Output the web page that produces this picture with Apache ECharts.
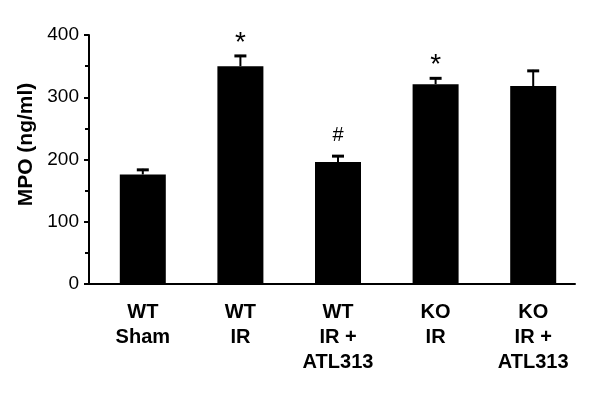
<!DOCTYPE html>
<html>
<head>
<meta charset="utf-8">
<script src="https://cdn.jsdelivr.net/npm/echarts@6/dist/echarts.min.js"></script>
<style>
    html, body { margin: 0; padding: 0; background: #fff; }
    #chart { width: 600px; height: 400px; }
</style>
</head>
<body>
<div id="chart"></div>
<script>
//分组名称
const groups = ['WT\nSham', 'WT\nIR', 'WT\nIR +\nATL313', 'KO\nIR', 'KO\nIR +\nATL313'];
//MPO均值
const mpo = [176, 350, 196, 321, 318];
//误差(向上)
const mpoErr = [9, 18, 11, 11, 26];
//显著性标记
const marks = ['', '*', '#', '*', ''];
//Y轴刻度
const yMin = 0;
const yMax = 400;
const yStep = 100;

const font = 'Liberation Sans, Arial, Helvetica, sans-serif';
const chart = echarts.init(document.getElementById('chart'));

//误差线和标记
function renderErr(params, api) {
    const i = api.value(0);
    const top = api.coord([i, api.value(1) + api.value(2)]);
    const base = api.coord([i, api.value(1)]);
    const x = top[0];
    const items = [
        { type: 'line', shape: { x1: x, y1: base[1], x2: x, y2: top[1] }, style: { stroke: '#000', lineWidth: 2 } },
        { type: 'line', shape: { x1: x - 6, y1: top[1] + 1, x2: x + 6, y2: top[1] + 1 }, style: { stroke: '#000', lineWidth: 3 } }
    ];
    const m = marks[i];
    if (m) {
        items.push({
            type: 'text',
            style: {
                text: m,
                x: x,
                y: m == '*' ? top[1] - 12 : top[1] - 20,
                align: 'center',
                verticalAlign: 'middle',
                fill: '#000',
                font: m == '*' ? '28px ' + font : '20px ' + font
            }
        });
    }
    return { type: 'group', children: items };
}

const option = {
    animation: false,
    grid: [
        { left: 94, right: 18, top: 35, bottom: 116 },
        { left: 89, right: 25, top: 35, bottom: 116 }
    ],
    xAxis: [
        {
            type: 'category', gridIndex: 0, data: groups,
            axisLine: { show: false }, axisTick: { show: false },
            axisLabel: { color: '#000', fontFamily: font, fontWeight: 'bold', fontSize: 20, lineHeight: 25, margin: 16, interval: 0 }
        },
        {
            type: 'value', gridIndex: 1, min: 0, max: 1,
            axisLine: { show: true, lineStyle: { color: '#000', width: 2 } },
            axisTick: { show: false }, axisLabel: { show: false }, splitLine: { show: false }
        }
    ],
    yAxis: [
        { type: 'value', gridIndex: 0, min: yMin, max: yMax, interval: yStep, show: false, splitLine: { show: false } },
        {
            type: 'value', gridIndex: 1, min: yMin, max: yMax, interval: yStep,
            name: 'MPO (ng/ml)', nameLocation: 'middle', nameGap: 42,
            nameTextStyle: { color: '#000', fontFamily: font, fontWeight: 'bold', fontSize: 21, padding: [0, 0, 0, 30] },
            axisLine: { show: true, lineStyle: { color: '#000', width: 2 } },
            axisTick: { show: true, length: 5, lineStyle: { color: '#000', width: 2 } },
            minorTick: { show: true, splitNumber: 2, length: 4, lineStyle: { color: '#000', width: 2 } },
            axisLabel: { color: '#000', fontFamily: font, fontSize: 19, margin: 10 },
            splitLine: { show: false }
        }
    ],
    series: [
        {
            type: 'bar', xAxisIndex: 0, yAxisIndex: 0,
            data: mpo, barWidth: 46,
            itemStyle: { color: '#000' }
        },
        {
            type: 'custom', xAxisIndex: 0, yAxisIndex: 0,
            renderItem: renderErr,
            data: mpo.map(function (v, i) { return [i, v, mpoErr[i]]; }),
            z: 5
        }
    ]
};
chart.setOption(option);
</script>
</body>
</html>
